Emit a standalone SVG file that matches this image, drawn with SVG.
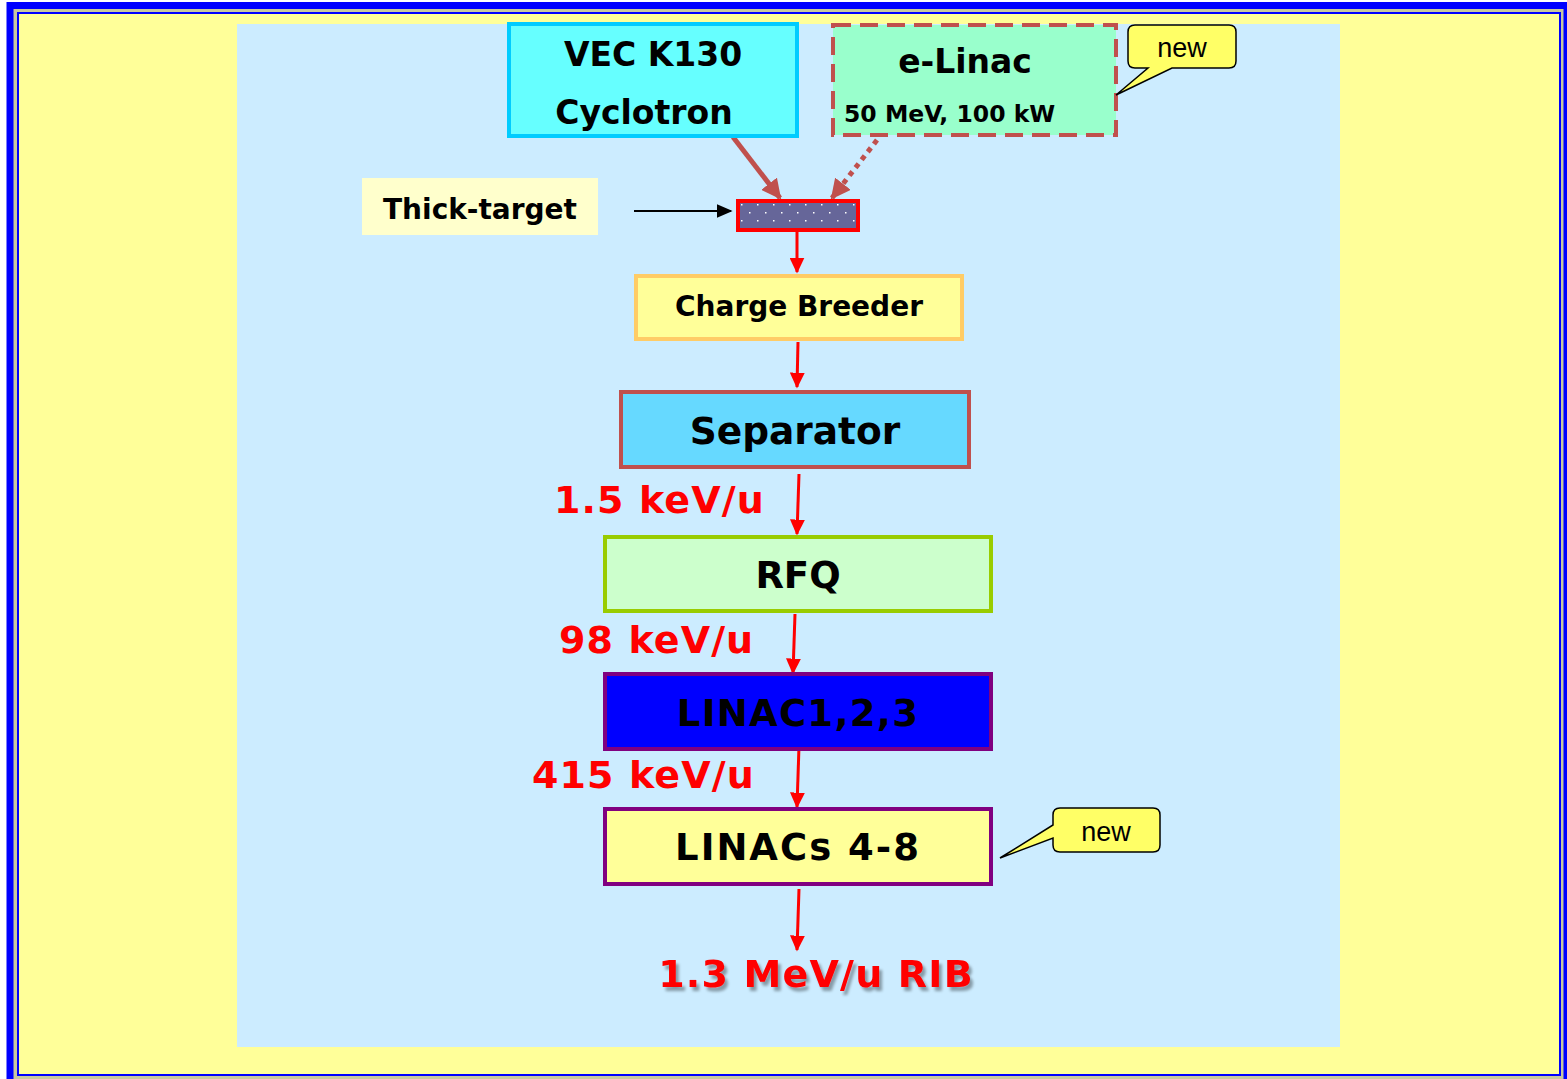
<svg xmlns="http://www.w3.org/2000/svg" width="1567" height="1079" viewBox="0 0 1567 1079">
<defs>
<style>
.t{font-family:"DejaVu Sans","Verdana",sans-serif;font-weight:bold;fill:#000;text-anchor:middle}
.r{font-family:"DejaVu Sans","Verdana",sans-serif;font-weight:bold;fill:#FF0000;letter-spacing:1.1px}
.n{font-family:"Liberation Sans",Arial,sans-serif;font-size:27px;fill:#000;text-anchor:middle}
.box{stroke-width:4}
.red{stroke:#FF0000;stroke-width:3;fill:none}
</style>
<marker id="ar" viewBox="0 0 10 10" refX="9" refY="5" markerWidth="16" markerHeight="15" markerUnits="userSpaceOnUse" orient="auto" preserveAspectRatio="none"><path d="M0,0 L10,5 L0,10 z" fill="#FF0000"/></marker>
<marker id="ab" viewBox="0 0 10 10" refX="9" refY="5" markerWidth="20" markerHeight="20" orient="auto" markerUnits="userSpaceOnUse"><path d="M0,0 L10,5 L0,10 z" fill="#C0504D"/></marker>
<marker id="ak" viewBox="0 0 10 10" refX="9" refY="5" markerWidth="16" markerHeight="14" orient="auto" markerUnits="userSpaceOnUse" preserveAspectRatio="none"><path d="M0,0 L10,5 L0,10 z" fill="#000"/></marker>
<pattern id="dots" x="737" y="200" width="16" height="16" patternUnits="userSpaceOnUse">
<rect width="16" height="16" fill="#666699"/>
<rect x="4" y="4" width="1.5" height="1.5" fill="#fff"/>
<rect x="12" y="12" width="1.5" height="1.5" fill="#fff"/>
</pattern>
<filter id="sh" x="-5%" y="-20%" width="110%" height="150%"><feGaussianBlur in="SourceAlpha" stdDeviation="1.5"/><feOffset dx="3" dy="4"/><feComponentTransfer><feFuncA type="linear" slope="0.35"/></feComponentTransfer><feMerge><feMergeNode/><feMergeNode in="SourceGraphic"/></feMerge></filter>
</defs>

<g id="frame">
<rect x="0" y="0" width="1567" height="1079" fill="#FFFFFF"/>
<rect x="10" y="5.5" width="1557" height="1079" fill="#C8C8A0" stroke="#0000FF" stroke-width="7"/>
<rect x="18" y="13" width="1542" height="1062" fill="#FFFF99" stroke="#0000FF" stroke-width="2"/>
<rect x="237" y="24" width="1103" height="1023" fill="#CCECFF"/>
</g>

<g id="connectors">
<line x1="733" y1="137" x2="780" y2="198" stroke="#C0504D" stroke-width="5" marker-end="url(#ab)"/>
<line x1="877" y1="140" x2="832" y2="198" stroke="#C0504D" stroke-width="5" stroke-dasharray="5,5" marker-end="url(#ab)"/>
<line x1="634" y1="211" x2="731" y2="211" stroke="#000" stroke-width="2" marker-end="url(#ak)"/>
<line x1="797" y1="232" x2="797" y2="272" class="red" marker-end="url(#ar)"/>
<line x1="798" y1="342" x2="797" y2="387" class="red" marker-end="url(#ar)"/>
<line x1="799" y1="474" x2="797" y2="534" class="red" marker-end="url(#ar)"/>
<line x1="795" y1="614" x2="793" y2="673" class="red" marker-end="url(#ar)"/>
<line x1="799" y1="746" x2="797" y2="807" class="red" marker-end="url(#ar)"/>
<line x1="799" y1="889" x2="797" y2="950" class="red" marker-end="url(#ar)"/>
</g>

<g id="cyclotron">
<rect x="509" y="24" width="288" height="112" fill="#66FFFF" stroke="#00CCFF" class="box"/>
<text x="653" y="66" class="t" font-size="33">VEC K130</text>
<text x="644" y="124" class="t" font-size="33">Cyclotron</text>
</g>

<g id="elinac">
<rect x="833" y="25" width="283" height="110" fill="#99FFCC" stroke="#C0504D" stroke-width="4" stroke-dasharray="18,9"/>
<text x="965" y="73" class="t" font-size="33">e-Linac</text>
<text x="844" y="122" class="t" font-size="23.5" style="text-anchor:start">50 MeV, 100 kW</text>
</g>

<g id="callout1">
<path d="M1135,25 H1229 Q1236,25 1236,32 V61 Q1236,68 1229,68 H1172 L1116,95 L1148,68 H1135 Q1128,68 1128,61 V32 Q1128,25 1135,25 Z" fill="#FFFF66" stroke="#000" stroke-width="1.5"/>
<text x="1182" y="57" class="n">new</text>
</g>

<g id="thicktarget-label">
<rect x="362" y="178" width="236" height="57" fill="#FFFFCC"/>
<text x="480" y="219" class="t" font-size="28">Thick-target</text>
</g>

<g id="target">
<rect x="738" y="201" width="120" height="29" fill="url(#dots)" stroke="#FF0000" stroke-width="4"/>
</g>

<g id="breeder">
<rect x="636" y="276" width="326" height="63" fill="#FFFF99" stroke="#FFCC66" class="box"/>
<text x="799" y="316" class="t" font-size="28">Charge Breeder</text>
</g>

<g id="separator">
<rect x="621" y="392" width="348" height="75" fill="#66D9FF" stroke="#C0504D" class="box"/>
<text x="795" y="444" class="t" font-size="37.5">Separator</text>
</g>
<text x="554" y="513" class="r" font-size="38">1.5 keV/u</text>

<g id="rfq">
<rect x="605" y="537" width="386" height="74" fill="#CCFFCC" stroke="#99CC00" class="box"/>
<text x="798" y="588" class="t" font-size="37">RFQ</text>
</g>
<text x="559" y="653" class="r" font-size="38">98 keV/u</text>

<g id="linac123">
<rect x="605" y="674" width="386" height="75" fill="#0000FF" stroke="#800080" class="box"/>
<text x="798" y="726" class="t" font-size="37" letter-spacing="1.3">LINAC1,2,3</text>
</g>
<text x="532" y="788" class="r" font-size="38">415 keV/u</text>

<g id="linacs48">
<rect x="605" y="809" width="386" height="75" fill="#FFFF99" stroke="#800080" class="box"/>
<text x="798" y="860" class="t" font-size="37" letter-spacing="2">LINACs 4-8</text>
</g>

<g id="callout2">
<path d="M1060,808 H1153 Q1160,808 1160,815 V845 Q1160,852 1153,852 H1060 Q1053,852 1053,845 V838 L1000,858 L1053,825 V815 Q1053,808 1060,808 Z" fill="#FFFF66" stroke="#000" stroke-width="1.5"/>
<text x="1106" y="841" class="n">new</text>
</g>

<text x="816" y="987" class="r" font-size="38" text-anchor="middle" style="letter-spacing:1.2px" filter="url(#sh)">1.3 MeV/u RIB</text>
</svg>
